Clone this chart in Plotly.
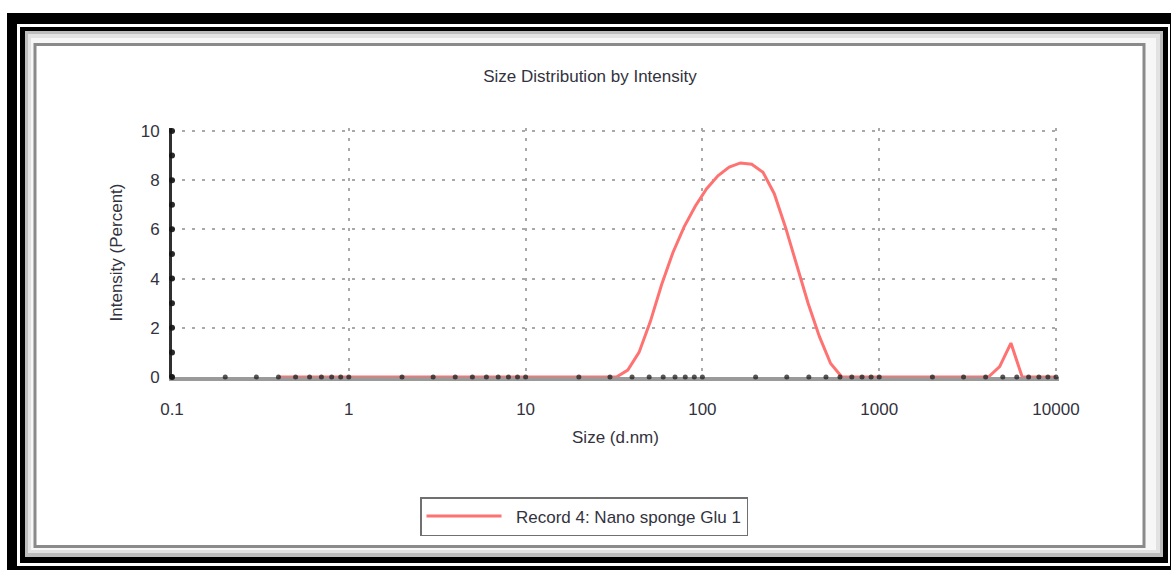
import plotly.graph_objects as go

# ---- data ----
size_nm = [0.4, 32.67, 37.84, 43.82, 50.75, 58.77, 68.06, 78.82, 91.28, 105.7,
           122.4, 141.8, 164.2, 190.1, 220.2, 255.0, 295.3, 342.0, 396.1, 458.7,
           531.2, 615.1, 4145, 4801, 5560, 6439, 10000]
intensity_pct = [0, 0, 0.28, 1.0, 2.25, 3.75, 5.05, 6.1, 6.95, 7.65,
                 8.18, 8.53, 8.7, 8.65, 8.32, 7.45, 6.08, 4.5, 3.0, 1.65,
                 0.55, 0, 0, 0.42, 1.38, 0, 0]
series_name = "Record 4: Nano sponge Glu 1"

x_tickvals = [0.1, 1, 10, 100, 1000, 10000]
x_ticktext = ["0.1", "1", "10", "100", "1000", "10000"]
y_tickvals = [0, 2, 4, 6, 8, 10]
y_ticktext = ["0", "2", "4", "6", "8", "10"]

# axis dot markers (minor + major tick positions)
x_dots = [0.1, 0.2, 0.3, 0.4, 0.5, 0.6, 0.7, 0.8, 0.9,
          1, 2, 3, 4, 5, 6, 7, 8, 9,
          10, 20, 30, 40, 50, 60, 70, 80, 90,
          100, 200, 300, 400, 500, 600, 700, 800, 900,
          1000, 2000, 3000, 4000, 5000, 6000, 7000, 8000, 9000, 10000]
y_dots = [0, 1, 2, 3, 4, 5, 6, 7, 8, 9, 10]

W, H = 1171, 570
L, R, T, B = 172, 112, 128, 193
PW, PH = W - L - R, H - T - B

def px(x):
    return (x - L) / PW

def py(y):
    return (H - B - y) / PH

FONT = "Liberation Sans, Arial, sans-serif"
TXT = "#333340"
GRID = "#a9a9a9"

fig = go.Figure()

fig.add_trace(go.Scatter(
    x=size_nm, y=intensity_pct, mode="lines", name="\u00a0\u00a0" + series_name,
    line=dict(color="#ff7272", width=3), cliponaxis=False,
))
fig.add_trace(go.Scatter(
    x=x_dots, y=[0] * len(x_dots), mode="markers", showlegend=False,
    hoverinfo="skip", cliponaxis=False,
    marker=dict(color="rgba(30,30,30,0.75)", size=5),
))
fig.add_trace(go.Scatter(
    x=[0.1] * len(y_dots), y=y_dots, mode="markers", showlegend=False,
    hoverinfo="skip", cliponaxis=False,
    marker=dict(color="rgba(20,20,20,0.9)", size=6),
))

# frame decorations
shapes = [
    dict(type="rect", xref="paper", yref="paper", x0=px(7), x1=px(1185), y0=py(13), y1=py(585),
         fillcolor="black", line=dict(width=0), layer="below"),
    dict(type="rect", xref="paper", yref="paper", x0=px(17), x1=px(1170), y0=py(24), y1=py(566),
         fillcolor="white", line=dict(width=0), layer="below"),
    dict(type="rect", xref="paper", yref="paper", x0=px(20), x1=px(1168), y0=py(27), y1=py(563),
         fillcolor="black", line=dict(width=0), layer="below"),
    dict(type="rect", xref="paper", yref="paper", x0=px(25), x1=px(1163), y0=py(31), y1=py(557),
         fillcolor="#bdbdbd", line=dict(width=0), layer="below"),
    dict(type="rect", xref="paper", yref="paper", x0=px(28), x1=px(1160), y0=py(34), y1=py(553),
         fillcolor="#e2e2e2", line=dict(width=0), layer="below"),
    dict(type="rect", xref="paper", yref="paper", x0=px(31), x1=px(1156), y0=py(38), y1=py(550),
         fillcolor="#f7f7f7", line=dict(width=0), layer="below"),
    dict(type="rect", xref="paper", yref="paper", x0=px(35), x1=px(1144), y0=py(44.5), y1=py(546.5),
         fillcolor="white", line=dict(color="#8a8a8a", width=3), layer="below"),
]

fig.update_layout(
    width=W, height=H,
    margin=dict(l=L, r=R, t=T, b=B, autoexpand=False),
    paper_bgcolor="white", plot_bgcolor="white",
    font=dict(family=FONT, size=17, color=TXT),
    title=dict(text="Size Distribution by Intensity", xref="container", yref="container",
               x=590 / W, y=1 - 76 / H, xanchor="center", yanchor="middle",
               font=dict(family=FONT, size=17, color=TXT)),
    shapes=shapes,
    showlegend=True,
    legend=dict(x=px(420), y=py(497), xanchor="left", yanchor="top",
                bordercolor="#707070", borderwidth=1.5, bgcolor="white",
                font=dict(family=FONT, size=17, color=TXT), itemwidth=75,
                orientation="h"),
    xaxis=dict(type="log", range=[-1, 4.017], tickvals=x_tickvals, ticktext=x_ticktext,
               showgrid=True, gridcolor=GRID, gridwidth=2, griddash="3px,7px",
               showline=True, linecolor="#9a9a9a", linewidth=4, zeroline=False,
               ticks="", ticklabelstandoff=14, layer="below traces",
               title=dict(text="Size (d.nm)", standoff=14, font=dict(family=FONT, size=17, color=TXT))),
    yaxis=dict(range=[0, 10.12], tickvals=y_tickvals, ticktext=y_ticktext,
               showgrid=True, gridcolor=GRID, gridwidth=2, griddash="3px,7px",
               showline=True, linecolor="#303030", linewidth=3, zeroline=False,
               ticks="", ticklabelstandoff=6, layer="below traces",
               title=dict(text="Intensity (Percent)", standoff=14, font=dict(family=FONT, size=17, color=TXT))),
)

fig.write_html("out.html")
